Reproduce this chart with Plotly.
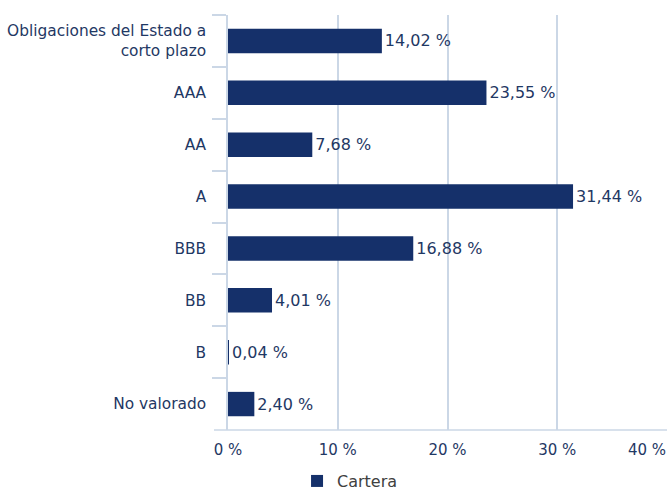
import plotly.graph_objects as go

categories = ["Obligaciones del Estado a<br>corto plazo", "AAA", "AA", "A", "BBB", "BB", "B", "No valorado"]
values = [14.02, 23.55, 7.68, 31.44, 16.88, 4.01, 0.04, 2.40]
series_name = "Cartera"
tick_vals = [0, 10, 20, 30, 40]
tick_text = ["0 %", "10 %", "20 %", "30 %", "40 %"]

labels = [f"{v:.2f}".replace(".", ",") + " %" for v in values]

navy = "#15306A"
text_col = "#1F3864"
grid_col = "#CBD7E6"

fig = go.Figure()
fig.add_trace(go.Bar(
    y=categories, x=values, orientation="h", name=series_name,
    marker=dict(color=navy, line=dict(width=0)),
    text=labels, textposition="outside", cliponaxis=False,
    textfont=dict(family="DejaVu Sans", size=16, color=text_col),
    width=0.47,
))

fig.update_layout(
    width=669, height=491,
    margin=dict(l=228, r=2, t=15, b=61, autoexpand=False),
    plot_bgcolor="white", paper_bgcolor="white",
    showlegend=True,
    legend=dict(orientation="h", x=0.278, xanchor="center", yref="paper", y=-0.123, yanchor="middle",
                font=dict(family="DejaVu Sans", size=16, color="#404040"),
                itemwidth=30),
    xaxis=dict(range=[0, 40], tickvals=tick_vals, ticktext=tick_text[:-1] + [""],
               showgrid=True, gridcolor=grid_col, gridwidth=1.5,
               zeroline=False, showline=False, automargin=False,
               tickfont=dict(family="DejaVu Sans", size=15, color=text_col),
               ticks="", ticklabelstandoff=9, ticklabeloverflow="allow"),
    yaxis=dict(autorange="reversed", type="category", automargin=False,
               showline=True, linecolor=grid_col, linewidth=1.5,
               ticks="outside", tickson="boundaries", ticklen=14, tickcolor=grid_col, tickwidth=1.5,
               tickfont=dict(family="DejaVu Sans", size=15.4, color=text_col),
               ticklabelstandoff=17, showgrid=False),
    bargap=0.53,
)

# last tick label kept inside the figure edge
fig.add_annotation(x=tick_vals[-1], xref="x", y=0, yref="paper", text=tick_text[-1],
                   showarrow=False, xanchor="right", yanchor="middle", yshift=-20, xshift=1,
                   font=dict(family="DejaVu Sans", size=15, color=text_col))

fig.add_shape(type="line", xref="paper", yref="paper", x0=-14/439, x1=1, y0=0, y1=0,
              line=dict(color=grid_col, width=1.5))

fig.write_html("out.html", config={"displayModeBar": False},
               post_script="document.body.style.margin='0';document.documentElement.style.overflow='hidden';document.body.style.overflow='hidden';")
